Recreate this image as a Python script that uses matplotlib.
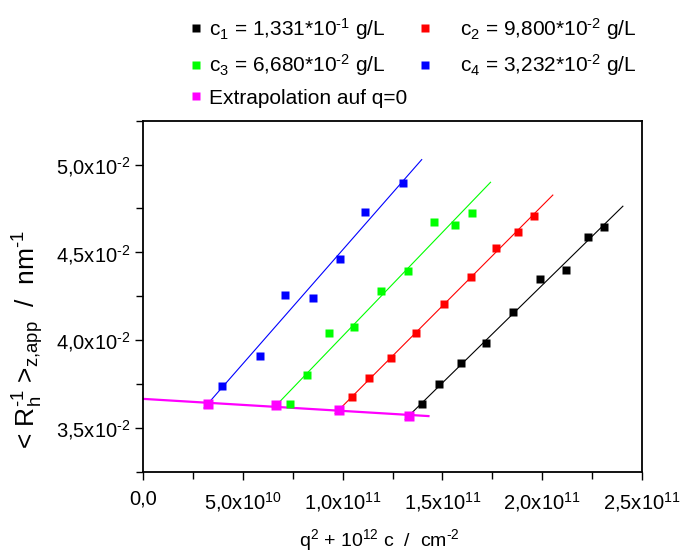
import numpy as np
import matplotlib
matplotlib.use("Agg")
import matplotlib.pyplot as plt
from matplotlib.ticker import MultipleLocator, FuncFormatter
from matplotlib.lines import Line2D

plt.rcParams['font.family'] = ['Liberation Sans', 'DejaVu Sans']
plt.rcParams['mathtext.fontset'] = 'custom'
plt.rcParams['mathtext.rm'] = 'Liberation Sans'
plt.rcParams['mathtext.it'] = 'Liberation Sans:italic'
plt.rcParams['mathtext.default'] = 'regular'

# concentrations (g/L); x axis uses q^2 + 1e12*c, so q=0 sits at 1e12*c
conc = [1.331e-1, 9.800e-2, 6.680e-2, 3.232e-2]
labels = [r'c$_1$ = 1,331*10$^{\text{-}1}$ g/L', r'c$_2$ = 9,800*10$^{\text{-}2}$ g/L',
          r'c$_3$ = 6,680*10$^{\text{-}2}$ g/L', r'c$_4$ = 3,232*10$^{\text{-}2}$ g/L']
colors = ['#000000', '#ff0000', '#00ff00', '#0000ff']

# measured <1/Rh>_z,app vs q^2 + k*c
x_c1 = [13.993, 14.845, 15.947, 17.199, 18.552, 19.905, 21.177, 22.279, 23.096]
y_c1 = [3.635, 3.747, 3.867, 3.982, 4.159, 4.349, 4.400, 4.586, 4.645]
x_c2 = [10.486, 11.338, 12.425, 13.692, 15.065, 16.418, 17.700, 18.772, 19.604]
y_c2 = [3.677, 3.781, 3.899, 4.041, 4.206, 4.362, 4.523, 4.618, 4.707]
x_c3 = [7.380, 8.231, 9.319, 10.586, 11.939, 13.287, 14.569, 15.646, 16.498]
y_c3 = [3.637, 3.802, 4.038, 4.075, 4.280, 4.392, 4.670, 4.653, 4.724]
x_c4 = [3.943, 5.877, 7.129, 8.502, 9.855, 11.137, 13.041]
y_c4 = [3.741, 3.910, 4.256, 4.240, 4.459, 4.730, 4.892]

# values extrapolated to q=0 (one per concentration, same order as conc)
y_q0 = [3.568, 3.601, 3.629, 3.635]

xs = [np.array(v) * 1e10 for v in (x_c1, x_c2, x_c3, x_c4)]
ys = [np.array(v) * 1e-2 for v in (y_c1, y_c2, y_c3, y_c4)]
x_q0 = np.array(conc) * 1e12
y_q0 = np.array(y_q0) * 1e-2

fig = plt.figure(figsize=(6.85, 5.52), dpi=100)
ax = fig.add_axes([0.2088, 0.1455, 0.7285, 0.6359])

# linear fits through the q=0 point of each concentration
for x, y, x0, y0, col in zip(xs, ys, x_q0, y_q0, colors):
    slope = np.sum((x - x0) * (y - y0)) / np.sum((x - x0) ** 2)
    xl = np.array([x0 - 1.7e9, x0 + 1.073e11])
    ax.plot(xl, y0 + slope * (xl - x0), color=col, lw=0.8, zorder=2)
    ax.plot(x, y, 's', color=col, ms=6, mec='none', zorder=3)

# extrapolation of the q=0 values to c=0
p = np.polyfit(x_q0, y_q0, 1)
xl = np.array([0, 1.43e11])
ax.plot(xl, np.polyval(p, xl), color='#ff00ff', lw=1.6, zorder=2)
ax.plot(x_q0, y_q0, 's', color='#ff00ff', ms=6.5, mec='none', zorder=4)

ax.set_xlim(0, 2.5e11)
ax.set_ylim(0.0325, 0.0525)
ax.xaxis.set_major_locator(MultipleLocator(5e10))
ax.xaxis.set_minor_locator(MultipleLocator(2.5e10))
ax.yaxis.set_major_locator(MultipleLocator(0.005))
ax.yaxis.set_minor_locator(MultipleLocator(0.0025))


def sci(v, pos):
    if abs(v) < 1e-20:
        return '0,0'
    e = int(np.floor(np.log10(abs(v)) + 1e-9))
    m = v / 10 ** e
    ex = str(e).replace('-', r'\text{-}')
    return f'{m:.1f}'.replace('.', ',') + 'x10$^{' + ex + '}$'


ax.xaxis.set_major_formatter(FuncFormatter(sci))
ax.yaxis.set_major_formatter(FuncFormatter(sci))
ax.tick_params(axis='both', which='both', direction='out', width=1.0,
               labelsize=14.5)
ax.tick_params(axis='both', which='major', length=6)
ax.tick_params(axis='both', which='minor', length=5)
ax.tick_params(axis='x', pad=7)
ax.tick_params(axis='y', pad=3)
for s in ax.spines.values():
    s.set_linewidth(1.3)

ax.set_xlabel(r'q$^2$ + 10$^{12}$ c  /  cm$^{\text{-}2}$', fontsize=14, va='baseline')
ax.xaxis.set_label_coords(0.473, -0.212)
ax.set_ylabel(r'< R$_h^{\text{-}1}$ >$_{z{,}app}$  /  nm$^{\text{-}1}$', fontsize=19, va='center')
ax.yaxis.set_label_coords(-0.2305, 0.378)

# legend: left column c1, c3, extrapolation; right column c2, c4
def square(c):
    return Line2D([], [], ls='none', marker='s', ms=6, color=c, mec='none')


leg_kw = dict(loc='upper left', frameon=False, fontsize=15, handlelength=0.8,
              labelspacing=0.5, borderpad=0, borderaxespad=0)
fig.legend([square(colors[0]), square(colors[2]), square('#ff00ff')],
           [labels[0], labels[2], 'Extrapolation auf q=0'],
           bbox_to_anchor=(188 / 685, 1 - 16 / 552), handletextpad=0.2, **leg_kw)
fig.legend([square(colors[1]), square(colors[3])],
           [labels[1], labels[3]],
           bbox_to_anchor=(417 / 685, 1 - 16 / 552), handletextpad=1.27, **leg_kw)

fig.savefig('out.png', dpi=100)
